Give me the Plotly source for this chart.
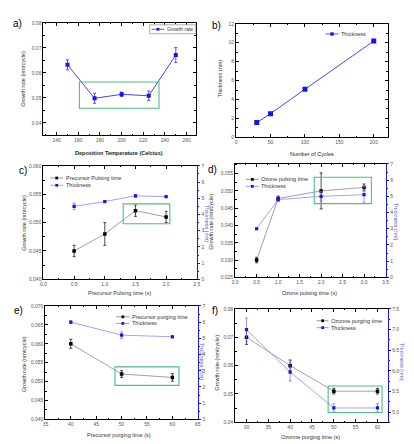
import plotly.graph_objects as go

W, H = 414, 444

# ---------------- data ----------------
temp_c = [150, 175, 200, 225, 250]
growth_a = [0.0632, 0.0498, 0.0514, 0.0508, 0.0671]
growth_a_err = [0.0020, 0.0020, 0.0009, 0.0019, 0.0030]

cycles = [30, 50, 100, 200]
thick_b = [1.55, 2.5, 5.08, 10.18]

prec_pulse = [0.5, 1.0, 1.5, 2.0]
growth_c = [0.0450, 0.0480, 0.0521, 0.0510]
growth_c_err = [0.0010, 0.0020, 0.0010, 0.0010]
thick_c = [4.5, 4.8, 5.15, 5.1]
thick_c_err = [0.2, 0.05, 0.08, 0.05]

ozone_pulse = [0.5, 1.0, 2.0, 3.0]
growth_d = [0.0300, 0.0478, 0.0500, 0.0510]
growth_d_err = [0.0008, 0.0007, 0.0052, 0.0010]
thick_d = [3.0, 4.8, 5.0, 5.1]
thick_d_err = [0.05, 0.1, 0.3, 0.5]

prec_purge = [40, 50, 60]
growth_e = [0.0600, 0.0520, 0.0511]
growth_e_err = [0.0012, 0.0009, 0.0010]
thick_e = [6.0, 5.2, 5.1]
thick_e_err = [0.08, 0.2, 0.08]

ozone_purge = [30, 40, 50, 60]
growth_f = [0.0700, 0.0600, 0.0510, 0.0510]
growth_f_err = [0.0025, 0.0020, 0.0010, 0.0010]
thick_f = [7.0, 5.97, 5.1, 5.1]
thick_f_err = [0.28, 0.22, 0.1, 0.1]

# highlighted windows: x0, x1, y0, y1
win_a = [161, 234.5, 0.0458, 0.0563]
win_c = [1.30, 2.06, 0.0498, 0.0533]
win_d = [1.84, 3.17, 4.55, 6.18]
win_e = [48.7, 61.3, 0.0490, 0.0539]
win_f = [48.7, 61.05, 0.0435, 0.0528]

# ---------------- style ----------------
FONT = "Liberation Sans, Arial, sans-serif"
BLUE = "#1414f0"
BLUE_LINE = "#4646f2"
BLUE_LIGHT = "#8c8cf8"
GREY_LINE = "#8a8a8a"
GREEN = "#4cbf82"
TICKCOL = "#555555"
TITLECOL = "#333333"
RTITLE = "#5050c8"


def px(x):
    return x / W


def py(y):
    return 1 - y / H


def dom_x(x0, x1):
    return [px(x0), px(x1)]


def dom_y(y0, y1):
    return [py(y1), py(y0)]


def xax(domain, anchor, rng, dtick, fmt=None):
    d = dict(domain=domain, anchor=anchor, range=rng, dtick=dtick,
             showline=True, linecolor="black", linewidth=1, mirror="ticks",
             ticks="inside", ticklen=3, tickwidth=0.8, tickcolor="black",
             showgrid=False, zeroline=False,
             tickfont=dict(size=5, color=TICKCOL, family=FONT),
             minor=dict(ticks="inside", ticklen=1.5, tickwidth=0.6,
                        tickcolor="black", dtick=dtick / 2))
    if fmt:
        d["tickformat"] = fmt
    return d


def yax(domain, anchor, rng, dtick, fmt=None, mirror="ticks"):
    d = dict(domain=domain, anchor=anchor, range=rng, dtick=dtick,
             showline=True, linecolor="black", linewidth=1, mirror=mirror,
             ticks="inside", ticklen=3, tickwidth=0.8, tickcolor="black",
             showgrid=False, zeroline=False,
             tickfont=dict(size=5, color=TICKCOL, family=FONT),
             minor=dict(ticks="inside", ticklen=1.5, tickwidth=0.6,
                        tickcolor="black", dtick=dtick / 2))
    if fmt:
        d["tickformat"] = fmt
    return d


def yax_right(over, anchor, rng, dtick, fmt=None):
    d = dict(overlaying=over, side="right", anchor=anchor, range=rng, dtick=dtick,
             showline=True, linecolor=BLUE, linewidth=1.3,
             ticks="outside", ticklen=2.5, tickwidth=0.8, tickcolor=BLUE,
             showgrid=False, zeroline=False,
             tickfont=dict(size=5, color=TICKCOL, family=FONT),
             minor=dict(ticks="outside", ticklen=1.5, tickwidth=0.6,
                        tickcolor=BLUE, dtick=dtick / 2))
    if fmt:
        d["tickformat"] = fmt
    return d


fig = go.Figure()

# a)
fig.add_trace(go.Scatter(
    x=temp_c, y=growth_a, mode="lines+markers", name="Growth rate",
    line=dict(color=BLUE_LINE, width=1),
    marker=dict(symbol="square", size=4, color=BLUE),
    error_y=dict(type="data", array=growth_a_err, color=BLUE, thickness=0.7, width=1.5),
    xaxis="x", yaxis="y", showlegend=False))

# b)
fig.add_trace(go.Scatter(
    x=cycles, y=thick_b, mode="lines+markers", name="Thickness",
    line=dict(color=BLUE_LINE, width=1),
    marker=dict(symbol="square", size=5, color=BLUE),
    xaxis="x2", yaxis="y2", showlegend=False))


def pair(xv, g, ge, t, te, xa, ya, yb):
    fig.add_trace(go.Scatter(
        x=xv, y=g, mode="lines+markers",
        line=dict(color=GREY_LINE, width=0.8),
        marker=dict(symbol="square", size=3.5, color="black"),
        error_y=dict(type="data", array=ge, color="black", thickness=0.7, width=1.5),
        xaxis=xa, yaxis=ya, showlegend=False))
    fig.add_trace(go.Scatter(
        x=xv, y=t, mode="lines+markers",
        line=dict(color=BLUE_LIGHT, width=0.8),
        marker=dict(symbol="square", size=3.2, color=BLUE),
        error_y=dict(type="data", array=te, color="#6a6af5", thickness=0.7, width=1.5),
        xaxis=xa, yaxis=yb, showlegend=False))


pair(prec_pulse, growth_c, growth_c_err, thick_c, thick_c_err, "x3", "y3", "y4")
pair(ozone_pulse, growth_d, growth_d_err, thick_d, thick_d_err, "x4", "y5", "y6")
pair(prec_purge, growth_e, growth_e_err, thick_e, thick_e_err, "x5", "y7", "y8")
pair(ozone_purge, growth_f, growth_f_err, thick_f, thick_f_err, "x6", "y9", "y10")

# panel frames in pixels (x0, x1, y0, y1)
fa = (33, 188, 12, 126)
fb = (229, 383, 13, 128)
fc = (33, 189, 157, 272)
fd = (228, 381, 155, 270)
fe = (35, 190, 299, 414)
ff = (228, 383, 302, 417)

layout = dict(
    width=W, height=H, autosize=False,
    margin=dict(l=0, r=0, t=0, b=0),
    paper_bgcolor="white", plot_bgcolor="white",
    font=dict(family=FONT),
    showlegend=False,
    xaxis=xax(dom_x(fa[0], fa[1]), "y", [127.8, 268.5], 20),
    yaxis=yax(dom_y(fa[2], fa[3]), "x", [0.035, 0.08], 0.01),
    xaxis2=xax(dom_x(fb[0], fb[1]), "y2", [0, 220], 50),
    yaxis2=yax(dom_y(fb[2], fb[3]), "x2", [0, 12], 2),
    xaxis3=xax(dom_x(fc[0], fc[1]), "y3", [0, 2.5], 0.5, ".1f"),
    yaxis3=yax(dom_y(fc[2], fc[3]), "x3", [0.040, 0.060], 0.005, ".3f", mirror=False),
    yaxis4=yax_right("y3", "x3", [0, 7], 1),
    xaxis4=xax(dom_x(fd[0], fd[1]), "y5", [0, 3.5], 0.5, ".1f"),
    yaxis5=yax(dom_y(fd[2], fd[3]), "x4", [0.025, 0.0578], 0.005, ".3f", mirror=False),
    yaxis6=yax_right("y5", "x4", [0, 7], 1),
    xaxis5=xax(dom_x(fe[0], fe[1]), "y7", [35, 65], 5),
    yaxis7=yax(dom_y(fe[2], fe[3]), "x5", [0.040, 0.070], 0.005, ".3f", mirror=False),
    yaxis8=yax_right("y7", "x5", [0, 7], 1),
    xaxis6=xax(dom_x(ff[0], ff[1]), "y9", [27.4, 62.3], 5),
    yaxis9=yax(dom_y(ff[2], ff[3]), "x6", [0.04, 0.08], 0.01, ".2f", mirror=False),
    yaxis10=yax_right("y9", "x6", [4.75, 7.5], 0.5, ".1f"),
)
fig.update_layout(**layout)

# highlight windows
for win, xr, yr in [(win_a, "x", "y"), (win_c, "x3", "y3"), (win_d, "x4", "y6"),
                    (win_e, "x5", "y7"), (win_f, "x6", "y9")]:
    fig.add_shape(type="rect", xref=xr, yref=yr, x0=win[0], x1=win[1], y0=win[2], y1=win[3],
                  line=dict(color=GREEN, width=1.1), fillcolor="rgba(0,0,0,0)")

annotations = []


def text(x, y, s, size=5.5, color=TITLECOL, angle=0, xanchor="center", bold=False):
    if bold:
        s = "<b>" + s + "</b>"
    annotations.append(dict(x=px(x), y=py(y), xref="paper", yref="paper", text=s,
                            showarrow=False, textangle=angle, xanchor=xanchor,
                            yanchor="middle", borderpad=0,
                            font=dict(size=size, color=color, family=FONT)))


def legend_entry(x0, x1, y, label, line_color, mk_color, size=5.5, mk=1.4):
    fig.add_shape(type="line", xref="paper", yref="paper", x0=px(x0), x1=px(x1),
                  y0=py(y), y1=py(y), line=dict(color=line_color, width=0.9))
    xm = (x0 + x1) / 2
    fig.add_shape(type="rect", xref="paper", yref="paper", x0=px(xm - mk), x1=px(xm + mk),
                  y0=py(y + mk), y1=py(y - mk), line=dict(width=0), fillcolor=mk_color)
    text(x1 + 1.5, y, label, size=size, color="#333333", xanchor="left")


# legends
fig.add_shape(type="rect", xref="paper", yref="paper", x0=px(141), x1=px(188), y0=py(23), y1=py(14),
              line=dict(color="#777777", width=0.6), fillcolor="white")
legend_entry(143, 156, 18.5, "Growth rate", BLUE_LINE, BLUE, size=5)
legend_entry(320, 333, 23.3, "Thickness", BLUE_LINE, BLUE, size=5.5, mk=1.7)
legend_entry(40, 53, 169.3, "Precursor Pulsing time", GREY_LINE, "black")
legend_entry(40, 53, 176.7, "Thickness", BLUE_LIGHT, BLUE)
legend_entry(239, 252, 170.7, "Ozone pulsing time", GREY_LINE, "black")
legend_entry(239, 252, 177.7, "Thickness", BLUE_LIGHT, BLUE)
legend_entry(107, 120.5, 310, "Precursor purging time", GREY_LINE, "black")
legend_entry(107, 120.5, 316.7, "Thickness", BLUE_LIGHT, BLUE)
legend_entry(311, 323, 314, "Ozonne purging time", GREY_LINE, "black")
legend_entry(311, 323, 321, "Thickness", BLUE_LIGHT, BLUE)

# axis titles
text(12, 69, "Growth rate (nm/cycle)", angle=-90)
text(110, 144, "Deposition Temperature (Celcius)", size=5.5, color="#222222", bold=True)
text(213, 68, "Thickness (nm)", angle=-90)
text(306, 145, "Number of Cycles", size=5.5, color="#222222")

text(13, 215, "Growth rate (nm/cycle)", angle=-90)
text(199, 215, "Thickness (nm)", angle=90, color=RTITLE)
text(110, 286, "Precursor Pulsing time (s)")

text(204, 214, "Growth rate (nm/cycle)", angle=-90)
text(392, 214, "Thickness (nm)", angle=90, color=RTITLE)
text(304, 286, "Ozone pulsing time (s)")

text(13, 358, "Growth rate (nm/cycle)", angle=-90)
text(194, 355, "Thickness (nm)", angle=90, color=RTITLE)
text(110, 430, "Precursor purging time (s)")

text(210, 356, "Growth rate (nm/cycle)", angle=-90)
text(398, 356, "Thickness (nm)", angle=90, color=RTITLE)
text(305, 432, "Ozonne purging time (s)")

# panel labels
for lab, x, y in [("a)", 7, 13), ("b)", 209, 15), ("c)", 12, 162),
                  ("d)", 205, 161), ("e)", 8, 304), ("f)", 207, 304)]:
    text(x, y, lab, size=10, color="black")

fig.update_layout(annotations=annotations)
fig.write_html("out.html")
